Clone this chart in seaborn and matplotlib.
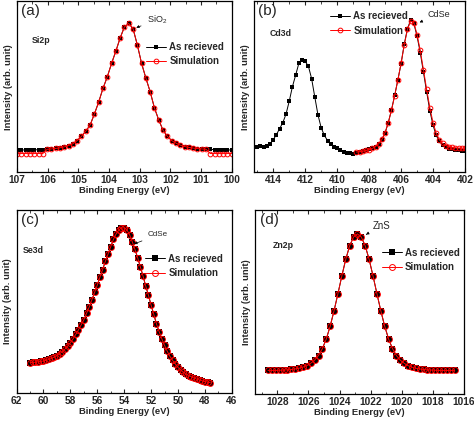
import numpy as np
import matplotlib
matplotlib.use("Agg")
import matplotlib.pyplot as plt
import seaborn as sns
from matplotlib.ticker import MultipleLocator

# ---- (a) Si2p : energy grid 107 -> 100 eV, step 0.14 ----
si_start, si_step = 107.0, 0.14
si_measured = [0.130, 0.130, 0.130, 0.130, 0.131, 0.131, 0.132, 0.134, 0.136, 0.139,
               0.143, 0.148, 0.156, 0.166, 0.185, 0.210, 0.240, 0.275, 0.340, 0.410,
               0.490, 0.557, 0.636, 0.708, 0.785, 0.850, 0.870, 0.840, 0.745, 0.636,
               0.550, 0.470, 0.375, 0.305, 0.245, 0.210, 0.185, 0.170, 0.158, 0.150,
               0.145, 0.141, 0.138, 0.136, 0.134, 0.133, 0.132, 0.131, 0.131, 0.130, 0.130]
si_sim = [0.109] * 7 + si_measured[7:45] + [0.109] * 6

# ---- (b) Cd3d : energy grid 415.2 -> 402 eV, step 0.2 ----
cd_start, cd_step = 415.2, 0.2
cd_measured = [0.148, 0.150, 0.152, 0.150, 0.155, 0.165, 0.190, 0.220, 0.255, 0.290,
               0.340, 0.415, 0.500, 0.567, 0.636, 0.655, 0.648, 0.620, 0.548, 0.440,
               0.335, 0.260, 0.215, 0.185, 0.165, 0.150, 0.139, 0.128, 0.118, 0.112,
               0.110, 0.109, 0.115, 0.120, 0.125, 0.128, 0.133, 0.140, 0.150, 0.163,
               0.190, 0.230, 0.290, 0.365, 0.450, 0.540, 0.635, 0.750, 0.840, 0.890,
               0.870, 0.795, 0.700, 0.585, 0.470, 0.360, 0.275, 0.215, 0.180, 0.158,
               0.145, 0.138, 0.133, 0.130, 0.128, 0.126, 0.125]
cd_sim_first = 32  # simulation starts at 408.8 eV
cd_sim = [0.118, 0.120, 0.123, 0.127, 0.132, 0.139, 0.150, 0.166,
          0.192, 0.232, 0.290, 0.362, 0.448, 0.540, 0.638, 0.745, 0.835, 0.885,
          0.875, 0.805, 0.712, 0.600, 0.485, 0.378, 0.290, 0.228, 0.190, 0.168,
          0.156, 0.149, 0.145, 0.143, 0.141, 0.140, 0.140]

# ---- (c) Se3d : energy grid 61 -> 47.6 eV, step 0.2 ----
se_start, se_step = 61.0, 0.2
se_measured = [0.166, 0.167, 0.168, 0.170, 0.172, 0.175, 0.178, 0.183, 0.189, 0.196,
               0.204, 0.214, 0.226, 0.240, 0.256, 0.275, 0.296, 0.320, 0.345, 0.372,
               0.400, 0.435, 0.470, 0.510, 0.550, 0.590, 0.635, 0.675, 0.720, 0.760,
               0.800, 0.840, 0.870, 0.892, 0.903, 0.903, 0.893, 0.866, 0.827, 0.785,
               0.740, 0.690, 0.640, 0.585, 0.535, 0.480, 0.430, 0.378, 0.335, 0.295,
               0.260, 0.228, 0.200, 0.178, 0.158, 0.140, 0.125, 0.113, 0.103, 0.095,
               0.088, 0.081, 0.075, 0.070, 0.066, 0.062, 0.059, 0.056]
se_sim = list(se_measured)

# ---- (d) Zn2p : energy grid 1028.6 -> 1016.6 eV, step 0.25 ----
zn_start, zn_step = 1028.6, 0.25
zn_measured = [0.129, 0.129, 0.129, 0.130, 0.131, 0.132, 0.134, 0.137, 0.141, 0.147,
               0.155, 0.168, 0.185, 0.210, 0.248, 0.300, 0.370, 0.454, 0.547, 0.643,
               0.733, 0.806, 0.854, 0.871, 0.854, 0.806, 0.733, 0.643, 0.547, 0.454,
               0.370, 0.300, 0.248, 0.210, 0.185, 0.168, 0.155, 0.147, 0.141, 0.137,
               0.134, 0.132, 0.131, 0.130, 0.129, 0.129, 0.129, 0.129, 0.129]
zn_sim = list(zn_measured)


def grid(start, step, n, first=0):
    return np.round(start - step * np.arange(first, first + n), 3)


sns.set_theme(style="ticks")
plt.rcParams["font.family"] = ["Liberation Sans", "DejaVu Sans"]
plt.rcParams["mathtext.default"] = "regular"

fig = plt.figure(figsize=(4.74, 4.22), dpi=100)


def draw_panel(ax, ex, ey, sx, sy, xlim, major, minor, tag, core, legend_xy, ms=1.0):
    sns.lineplot(x=ex, y=ey, ax=ax, color="black", lw=0.7, marker="s",
                 markersize=3.0 * ms, markeredgewidth=0, label="As recieved", sort=False)
    sns.lineplot(x=sx, y=sy, ax=ax, color="red", lw=0.7, marker="o",
                 markersize=3.4 * ms, markerfacecolor="none", markeredgecolor="red",
                 markeredgewidth=0.7, label="Simulation", sort=False)
    ax.set_xlim(*xlim)
    ax.set_ylim(0, 1)
    ax.xaxis.set_major_locator(MultipleLocator(major))
    ax.xaxis.set_minor_locator(MultipleLocator(minor))
    ax.set_yticks([])
    ax.tick_params(axis="x", which="both", direction="in", top=True, bottom=True,
                   labelsize=7.3, pad=2)
    ax.tick_params(axis="x", which="major", length=3, width=0.8)
    ax.tick_params(axis="x", which="minor", length=1.8, width=0.6)
    for lab in ax.get_xticklabels():
        lab.set_fontweight("bold")
    for sp in ax.spines.values():
        sp.set_linewidth(0.9)
        sp.set_color("black")
    ax.set_xlabel("Binding Energy (eV)", fontsize=6.8, fontweight="bold", labelpad=1)
    ax.set_ylabel("Intensity (arb. unit)", fontsize=6.8, fontweight="bold", labelpad=3)
    ax.text(0.02, 0.985, tag, transform=ax.transAxes, fontsize=11, va="top", ha="left")
    ax.text(core[0], core[1], core[2], transform=ax.transAxes, fontsize=6.3,
            fontweight="bold", va="center", ha="left")
    ax.legend(loc="center left", bbox_to_anchor=legend_xy, frameon=False,
              prop={"weight": "bold", "size": 7}, handlelength=2.1,
              handletextpad=0.3, borderpad=0, borderaxespad=0, labelspacing=0.45)


ax_a = fig.add_axes([0.036, 0.592, 0.453, 0.405])
draw_panel(ax_a, grid(si_start, si_step, len(si_measured)), si_measured,
           grid(si_start, si_step, len(si_sim)), si_sim,
           (107, 100), 1, 0.5, "(a)", (0.07, 0.77, "Si2p"), (0.6, 0.69))
ax_a.annotate("SiO$_2$", xy=(103.2, 0.84), xytext=(0.605, 0.89), textcoords="axes fraction",
              fontsize=6.5, va="center",
              arrowprops=dict(arrowstyle="-|>", color="black", lw=0.5, mutation_scale=4))

ax_b = fig.add_axes([0.536, 0.592, 0.445, 0.405])
draw_panel(ax_b, grid(cd_start, cd_step, len(cd_measured)), cd_measured,
           grid(cd_start, cd_step, len(cd_sim), cd_sim_first), cd_sim,
           (415.2, 402), 2, 1, "(b)", (0.075, 0.81, "Cd3d"), (0.36, 0.87))
ax_b.annotate("CdSe", xy=(405.0, 0.87), xytext=(0.82, 0.925), textcoords="axes fraction",
              fontsize=6.5, va="center",
              arrowprops=dict(arrowstyle="-|>", color="black", lw=0.5, mutation_scale=4))

ax_c = fig.add_axes([0.035, 0.069, 0.454, 0.433])
draw_panel(ax_c, grid(se_start, se_step, len(se_measured)), se_measured,
           grid(se_start, se_step, len(se_sim)), se_sim,
           (62, 46), 2, 1, "(c)", (0.03, 0.78, "Se3d"), (0.597, 0.695), ms=1.25)
ax_c.annotate("CdSe", xy=(53.45, 0.81), xytext=(0.61, 0.865), textcoords="axes fraction",
              fontsize=5.8, va="center",
              arrowprops=dict(arrowstyle="-|>", color="black", lw=0.5, mutation_scale=4))

ax_d = fig.add_axes([0.539, 0.066, 0.440, 0.436])
draw_panel(ax_d, grid(zn_start, zn_step, len(zn_measured)), zn_measured,
           grid(zn_start, zn_step, len(zn_sim)), zn_sim,
           (1029.4, 1016), 2, 1, "(d)", (0.083, 0.807, "Zn2p"), (0.605, 0.73), ms=1.25)
ax_d.annotate("ZnS", xy=(1022.45, 0.86), xytext=(0.56, 0.915), textcoords="axes fraction",
              fontsize=7, va="center",
              arrowprops=dict(arrowstyle="-|>", color="black", lw=0.5, mutation_scale=4))

fig.savefig("out.png", dpi=100)
